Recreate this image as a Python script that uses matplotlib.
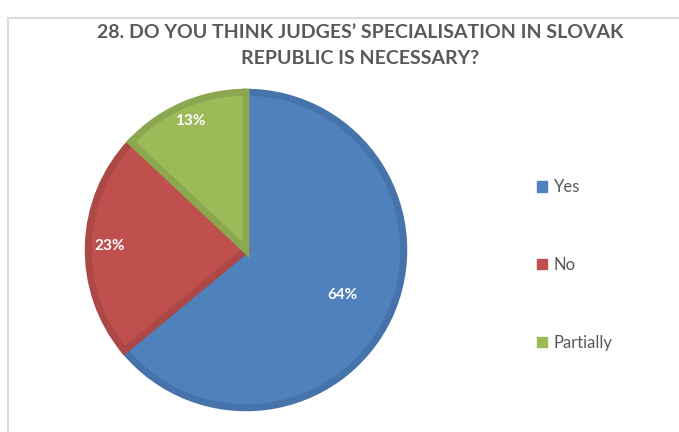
import matplotlib
matplotlib.use("Agg")
import matplotlib.pyplot as plt
from matplotlib.patches import Rectangle, Patch
import numpy as np

categories = ["Yes", "No", "Partially"]
values = [64, 23, 13]
colors = ["#4F81BD", "#C0504D", "#9BBB59"]
edge_colors = ["#4673AA", "#AC4845", "#8BA850"]
label_dist = [0.66, 0.85, 0.87]

W, H = 679, 432
fig = plt.figure(figsize=(W / 100, H / 100), dpi=100)
fig.patch.set_facecolor("white")

# chart border
fig.add_artist(Rectangle((8 / W, -0.1), 1.2, (432 - 18) / H + 0.1, transform=fig.transFigure,
                         fill=False, edgecolor="#D9D9D9", linewidth=1.5))

cx, cy, R = 246, 250, 161
ax = fig.add_axes([(cx - R) / W, (H - cy - R) / H, 2 * R / W, 2 * R / H])
r = 0.98
wedges, _ = ax.pie(values, colors=colors, startangle=90, counterclock=False, radius=r,
                   wedgeprops=dict(linewidth=5, joinstyle="miter"))
for w, ec in zip(wedges, edge_colors):
    w.set_edgecolor(ec)
ax.set_xlim(-1, 1)
ax.set_ylim(-1, 1)
ax.set_aspect("equal")
ax.axis("off")

total = sum(values)
start = 90.0
for v, d in zip(values, label_dist):
    ang = np.deg2rad(start - v / total * 180)
    ax.text(d * np.cos(ang), d * np.sin(ang), f"{v}%", ha="center", va="center",
            color="white", fontsize=11, fontweight="bold", family="Lato")
    start -= v / total * 360

fig.text(0.53, (H - 32) / H, "28. DO YOU THINK JUDGES\u2019 SPECIALISATION IN SLOVAK",
         ha="center", va="center", fontsize=14, fontweight="bold", color="#595959", family="Lato")
fig.text(0.53, (H - 59) / H, "REPUBLIC IS NECESSARY?",
         ha="center", va="center", fontsize=14, fontweight="bold", color="#595959", family="Lato")

handles = [Patch(facecolor=c, edgecolor=c) for c in colors]
leg = fig.legend(handles, categories, loc="center left", bbox_to_anchor=(522 / W, (H - 265) / H),
                 frameon=False, labelspacing=3.7, handlelength=0.6, handleheight=0.6,
                 handletextpad=0.4, prop=dict(family="Lato", size=12))
for t in leg.get_texts():
    t.set_color("#595959")

fig.savefig("out.png", dpi=100)
